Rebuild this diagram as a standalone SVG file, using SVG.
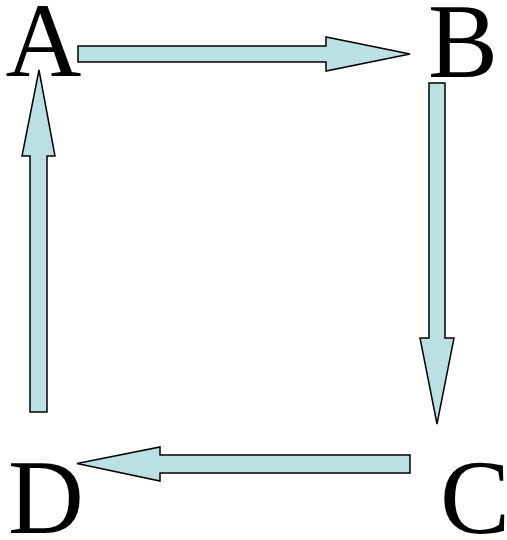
<svg xmlns="http://www.w3.org/2000/svg" width="507" height="540" viewBox="0 0 507 540">
<style>
.lbl{font-family:"Liberation Serif","Times New Roman",serif;font-size:105px;fill:#000}
.arr{fill:#bbe0e3;stroke:#000;stroke-width:1.5;stroke-linejoin:miter}
</style>
<rect width="507" height="540" fill="#fff"/>
<g id="connectors">
<path id="a-b" class="arr" d="M78,46 H326 V37 L410,54 L326,71 V62 H78 Z"/>
<path id="b-c" class="arr" d="M429,83 H445 V338 H454 L437,424 L420,338 H429 Z"/>
<path id="c-d" class="arr" d="M410,455 V473 H160 V481 L77,463.5 L160,447 V455 Z"/>
<path id="d-a" class="arr" d="M30,412 H47 V156 H55 L39,70 L22,156 H30 Z"/>
</g>
<g id="A"><text class="lbl" x="5.5" y="76">A</text></g>
<g id="B"><text class="lbl" x="428" y="77">B</text></g>
<g id="C"><text class="lbl" x="440" y="533">C</text></g>
<g id="D"><text class="lbl" x="8" y="533">D</text></g>
</svg>
